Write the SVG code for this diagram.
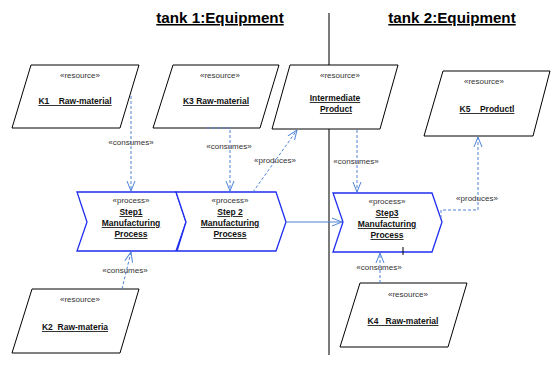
<svg xmlns="http://www.w3.org/2000/svg" width="551" height="376" viewBox="0 0 551 376">
<defs>
<marker id="open" viewBox="0 0 10 10" refX="10" refY="5" markerWidth="10" markerHeight="10" markerUnits="userSpaceOnUse" orient="auto">
<path d="M0,1 L10,5 L0,9" fill="none" stroke="#4f82d6" stroke-width="1"/>
</marker>
<style>
.res{fill:#fff;stroke:#000;stroke-width:1}
.proc{fill:#fff;stroke:#1f2ef0;stroke-width:1.3}
.st{font-family:"Liberation Sans",Arial,sans-serif;font-size:8px;fill:#333;text-anchor:middle}
.nm{font-family:"Liberation Sans",Arial,sans-serif;font-size:8.5px;font-weight:bold;fill:#111;text-anchor:middle;text-decoration:underline}
.lb{font-family:"Liberation Sans",Arial,sans-serif;font-size:8px;fill:#333;text-anchor:middle}
.title{font-family:"Liberation Sans",Arial,sans-serif;font-size:15.2px;font-weight:bold;fill:#000;text-anchor:middle;text-decoration:underline}
.dash{fill:none;stroke:#4f82d6;stroke-width:1;stroke-dasharray:3,2;marker-end:url(#open)}
.solid{fill:none;stroke:#4f82d6;stroke-width:1.2;marker-end:url(#open)}
</style>
</defs>
<rect width="551" height="376" fill="#fff"/>
<text class="title" x="220" y="23">tank 1:Equipment</text>
<text class="title" x="452" y="23">tank 2:Equipment</text>
<line x1="329" y1="13" x2="329" y2="355" stroke="#222" stroke-width="1.2"/>

<g id="K1">
<polygon class="res" points="31,65 139,65 120,128 12,128"/>
<text class="st" x="80" y="78">«resource»</text>
<text class="nm" x="75" y="104" xml:space="preserve">K1    Raw-material</text>
</g>
<g id="K3">
<polygon class="res" points="173,65 279,65 260,128 153,128"/>
<text class="st" x="220" y="78">«resource»</text>
<text class="nm" x="216" y="104">K3 Raw-material</text>
</g>
<g id="Intermediate">
<polygon class="res" points="290,65 398,65 380,129 272,129"/>
<text class="st" x="340" y="78">«resource»</text>
<text class="nm" x="335" y="101">Intermediate</text>
<text class="nm" x="336" y="112">Product</text>
</g>
<g id="K5">
<polygon class="res" points="443,71 550,71 533,136 424,136"/>
<text class="st" x="484" y="84">«resource»</text>
<text class="nm" x="487" y="112" xml:space="preserve">K5    Productl</text>
</g>
<g id="K2">
<polygon class="res" points="32,289 139,289 120,353 12,353"/>
<text class="st" x="80" y="302">«resource»</text>
<text class="nm" x="75" y="330" xml:space="preserve">K2  Raw-materia</text>
</g>
<g id="K4">
<polygon class="res" points="360,283 467,283 448,347 340,347"/>
<text class="st" x="408" y="297">«resource»</text>
<text class="nm" x="403" y="324" xml:space="preserve">K4   Raw-material</text>
</g>

<g id="Step1">
<polygon class="proc" points="77,192 176,192 186,222 176,251 77,251 87,222"/>
<text class="st" x="131" y="203">«process»</text>
<text class="nm" x="131" y="215">Step1</text>
<text class="nm" x="131" y="226">Manufacturing</text>
<text class="nm" x="131" y="237">Process</text>
</g>
<g id="Step2">
<polygon class="proc" points="176,192 276,192 286,222 276,251 177,251 186,222"/>
<text class="st" x="230" y="203">«process»</text>
<text class="nm" x="230" y="215">Step 2</text>
<text class="nm" x="230" y="226">Manufacturing</text>
<text class="nm" x="230" y="237">Process</text>
</g>
<g id="Step3">
<polygon class="proc" points="333,193 432,193 442,222 432,252 333,252 343,222"/>
<text class="st" x="387" y="204">«process»</text>
<text class="nm" x="387" y="216">Step3</text>
<text class="nm" x="387" y="227">Manufacturing</text>
<text class="nm" x="387" y="238">Process</text>
<line x1="403" y1="247" x2="403" y2="255" stroke="#000" stroke-width="1"/>
</g>

<g id="connectors">
<path class="dash" d="M131,96 L131,191"/>
<path class="dash" d="M207,128 L230,128 L230,191"/>
<path class="dash" d="M253,192 L297,130"/>
<path class="dash" d="M357,130 L357,192"/>
<path class="dash" d="M441,218 L441,210 L478,210 L478,137"/>
<path class="solid" d="M286,222 L342,222"/>
<path class="dash" d="M122,289 L131,252"/>
<path class="dash" d="M380,283 L380,253"/>
<text class="lb" x="131" y="145">«consumes»</text>
<text class="lb" x="229" y="149">«consumes»</text>
<text class="lb" x="275" y="163">«produces»</text>
<text class="lb" x="356" y="164">«consumes»</text>
<text class="lb" x="477" y="201">«produces»</text>
<text class="lb" x="125" y="273">«consumes»</text>
<text class="lb" x="379" y="270">«consumes»</text>
</g>
</svg>
